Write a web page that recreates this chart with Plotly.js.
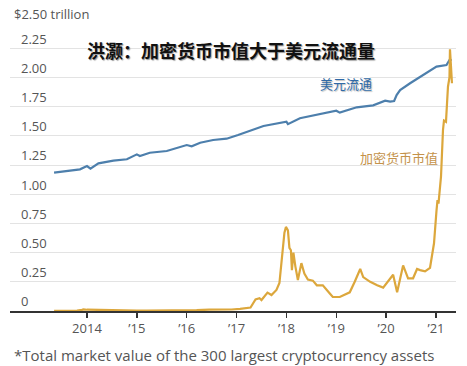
<!DOCTYPE html>
<html>
<head>
<meta charset="utf-8">
<script src="https://cdn.plot.ly/plotly-3.0.1.min.js"></script>
<style>html,body{margin:0;padding:0;background:#fff;}#chart{width:467px;height:366px;}</style>
</head>
<body>
<div id="chart"></div>
<script>
// Currency in circulation (trillion $), by decimal year
const usdYears = [2013.34,2013.59,2013.86,2014.0,2014.07,2014.23,2014.53,2014.8,2015.0,2015.06,2015.26,2015.6,2015.8,2016.0,2016.1,2016.27,2016.53,2016.8,2017.03,2017.37,2017.54,2018.0,2018.03,2018.27,2018.6,2019.0,2019.07,2019.41,2019.74,2019.98,2020.08,2020.16,2020.21,2020.28,2020.48,2020.74,2021.01,2021.21,2021.28,2021.31];
const usdValues = [1.184,1.196,1.213,1.241,1.218,1.264,1.287,1.299,1.341,1.327,1.355,1.37,1.393,1.421,1.41,1.441,1.464,1.475,1.507,1.555,1.584,1.621,1.60,1.65,1.678,1.715,1.698,1.744,1.761,1.80,1.792,1.798,1.849,1.892,1.95,2.02,2.092,2.106,2.155,2.143];

// Crypto market value (trillion $)
const cryptoYears = [2013.34,2013.6,2013.8,2013.9,2013.93,2014.0,2014.15,2014.3,2014.45,2014.6,2014.8,2015.0,2015.2,2015.5,2015.8,2015.95,2016.2,2016.45,2016.7,2016.9,2017.07,2017.2,2017.28,2017.38,2017.46,2017.5,2017.62,2017.7,2017.8,2017.86,2017.91,2017.96,2017.99,2018.03,2018.06,2018.09,2018.11,2018.14,2018.18,2018.23,2018.3,2018.36,2018.43,2018.53,2018.61,2018.73,2018.87,2018.93,2019.07,2019.27,2019.37,2019.48,2019.54,2019.68,2019.82,2019.94,2020.14,2020.22,2020.34,2020.44,2020.54,2020.62,2020.68,2020.78,2020.88,2020.92,2020.96,2021.01,2021.03,2021.05,2021.07,2021.1,2021.14,2021.16,2021.2,2021.24,2021.27,2021.28,2021.3,2021.32];
const cryptoValues = [0.002,0.002,0.004,0.010,0.014,0.011,0.009,0.007,0.008,0.007,0.005,0.004,0.004,0.004,0.005,0.006,0.007,0.011,0.011,0.013,0.018,0.022,0.03,0.10,0.11,0.094,0.157,0.137,0.18,0.24,0.465,0.67,0.72,0.69,0.54,0.52,0.35,0.50,0.38,0.265,0.41,0.32,0.27,0.26,0.22,0.22,0.15,0.12,0.12,0.16,0.25,0.36,0.29,0.25,0.22,0.20,0.31,0.16,0.39,0.28,0.28,0.36,0.35,0.34,0.37,0.48,0.58,0.86,0.95,0.92,1.02,1.15,1.55,1.63,1.62,1.92,2.0,2.24,2.10,1.95];

const yTickVals = [0,0.25,0.5,0.75,1.0,1.25,1.5,1.75,2.0,2.25,2.5];
const yTickText = ['0','0.25','0.50','0.75','1.00','1.25','1.50','1.75','2.00','2.25',''];
const xTickVals = [2014,2015,2016,2017,2018,2019,2020,2021];
const xTickText = ['2014','\u201915','\u201916','\u201917','\u201918','\u201919','\u201920','\u201921'];

const latin = 'Open Sans, Lato, sans-serif';
const cjk = 'Noto Sans CJK SC, sans-serif';

const traces = [
  {x: usdYears, y: usdValues, type: 'scatter', mode: 'lines', line: {color: '#4d7fac', width: 2.2}, hoverinfo: 'skip'},
  {x: cryptoYears, y: cryptoValues, type: 'scatter', mode: 'lines', line: {color: '#dca73c', width: 2.2}, hoverinfo: 'skip'}
];

const layout = {
  width: 467, height: 366,
  margin: {l: 10, r: 11, t: 19, b: 55},
  paper_bgcolor: '#fff', plot_bgcolor: '#fff',
  showlegend: false,
  xaxis: {
    range: [2012.456, 2021.401],
    tickvals: xTickVals, ticktext: xTickText,
    showgrid: false, zeroline: false,
    showline: true, linecolor: '#333', linewidth: 1.5,
    ticks: 'outside', ticklen: 5, tickcolor: '#333', tickwidth: 1.5,
    tickfont: {family: latin, size: 13, color: '#555'}
  },
  yaxis: {
    range: [0, 2.5],
    tickvals: yTickVals, ticktext: yTickText,
    showgrid: true, gridcolor: '#e3e3e3', gridwidth: 1,
    zeroline: false, showline: false, ticks: '',
    ticklabelposition: 'inside top', ticklabelstandoff: 8,
    tickfont: {family: latin, size: 13, color: '#555'}
  },
  annotations: [
    {xref: 'paper', yref: 'paper', x: 0.0045, y: 1.017, xanchor: 'left', yanchor: 'middle', showarrow: false,
     text: '$2.50 trillion', font: {family: latin, size: 13, color: '#555'}},
    {xref: 'paper', yref: 'paper', x: 0.4966, y: 0.8938, xanchor: 'center', yanchor: 'middle', showarrow: false,
     text: '洪灏：加密货币市值大于美元流通量',
     font: {family: cjk, size: 18, color: '#111', weight: 'bold', shadow: '1px 1px 1px #999, -1px -1px 0 #fff, 1px -1px 0 #fff, -1px 1px 0 #fff'}},
    {xref: 'paper', yref: 'paper', x: 0.7534, y: 0.7808, xanchor: 'center', yanchor: 'middle', showarrow: false,
     text: '美元流通', font: {family: cjk, size: 13, color: '#2f69a6', shadow: '1px 1px 1px #bbb, -1px -1px 0 #fff'}},
    {xref: 'paper', yref: 'paper', x: 0.872, y: 0.527, xanchor: 'center', yanchor: 'middle', showarrow: false,
     text: '加密货币市值', font: {family: cjk, size: 13, color: '#c4924a'}},
    {xref: 'paper', yref: 'paper', x: 0.0045, y: -0.1507, xanchor: 'left', yanchor: 'middle', showarrow: false,
     text: '*Total market value of the 300 largest cryptocurrency assets', font: {family: latin, size: 15, color: '#555'}}
  ]
};

Plotly.newPlot('chart', traces, layout, {staticPlot: true, displayModeBar: false});
</script>
</body>
</html>
